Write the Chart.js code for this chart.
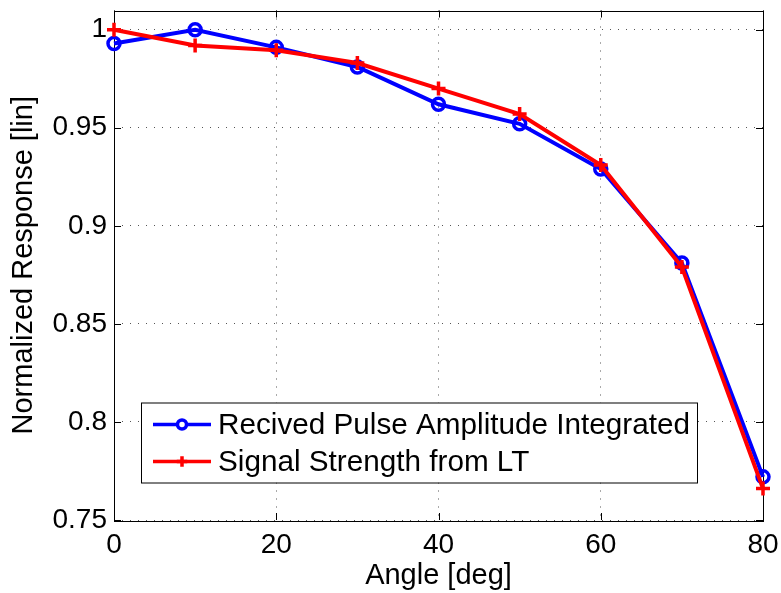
<!DOCTYPE html>
<html>
<head>
<meta charset="utf-8">
<script src="https://cdn.jsdelivr.net/npm/chart.js@4/dist/chart.umd.min.js"></script>
<style>
  html, body { margin: 0; padding: 0; background: #fff; }
  #wrap { width: 781px; height: 593px; position: relative; }
</style>
</head>
<body>
<div id="wrap"><canvas id="c" width="781" height="593"></canvas></div>
<script>
const angles = [0, 10, 20, 30, 40, 50, 60, 70, 80];
const pulseAmplitude = [0.993, 1.0, 0.991, 0.981, 0.962, 0.952, 0.929, 0.881, 0.772];
const signalStrength = [1.0, 0.992, 0.9895, 0.983, 0.970, 0.957, 0.931, 0.879, 0.766];
const yTicks = [0.75, 0.8, 0.85, 0.9, 0.95, 1];
const xTicks = [0, 20, 40, 60, 80];
const seriesNames = ['Recived Pulse Amplitude Integrated', 'Signal Strength from LT'];
const xTitle = 'Angle [deg]';
const yTitle = 'Normalized Response [lin]';

const FONT = '"Liberation Sans", Arial, Helvetica, sans-serif';

const framePlugin = {
  id: 'frame',
  beforeDatasetsDraw(chart) {
    const { ctx, chartArea: a, scales } = chart;
    ctx.save();
    ctx.strokeStyle = '#000';
    ctx.lineWidth = 1;
    const tl = 7;
    ctx.beginPath();
    yTicks.forEach(v => {
      const y = Math.round(scales.y.getPixelForValue(v)) + 0.5;
      ctx.moveTo(a.left, y); ctx.lineTo(a.left + tl, y);
      ctx.moveTo(a.right, y); ctx.lineTo(a.right - tl, y);
    });
    xTicks.forEach(v => {
      const x = Math.round(scales.x.getPixelForValue(v)) + 0.5;
      ctx.moveTo(x, a.bottom); ctx.lineTo(x, a.bottom - tl);
      ctx.moveTo(x, a.top); ctx.lineTo(x, a.top + tl);
    });
    ctx.stroke();
    ctx.strokeRect(Math.round(a.left) + 0.5, Math.round(a.top) + 0.5,
                   Math.round(a.right - a.left), Math.round(a.bottom - a.top));
    ctx.restore();
  },
  afterDatasetsDraw(chart) {
    const { ctx, chartArea: a } = chart;
    const ds = chart.data.datasets;
    const bx = a.left + 27, by = a.top + 392, bw = 556, bh = 80;
    ctx.save();
    ctx.fillStyle = '#fff';
    ctx.fillRect(bx, by, bw, bh);
    ctx.strokeStyle = '#000';
    ctx.lineWidth = 1;
    ctx.strokeRect(bx + 0.5, by + 0.5, bw, bh);
    const rows = [by + 22, by + 59];
    const legendOrder = [1, 0];
    legendOrder.forEach((di, i) => {
      const d = ds[di];
      const y = rows[i];
      ctx.strokeStyle = d.borderColor;
      ctx.lineWidth = 3.5;
      ctx.beginPath();
      ctx.moveTo(bx + 12, y); ctx.lineTo(bx + 70, y);
      ctx.stroke();
      Chart.helpers.drawPoint(ctx, {
        pointStyle: d.pointStyle, radius: d.pointRadius * 0.75,
        borderWidth: 3, rotation: 0
      }, bx + 41, y);
      ctx.fillStyle = '#000';
      ctx.font = '29.7px ' + FONT;
      ctx.textBaseline = 'middle';
      ctx.textAlign = 'left';
      ctx.fillText(d.label, bx + 77, y + 1);
    });
    ctx.restore();
  }
};

function pts(vals) { return angles.map((x, i) => ({ x, y: vals[i] })); }

new Chart(document.getElementById('c'), {
  type: 'line',
  data: {
    datasets: [
      {
        label: seriesNames[1], data: pts(signalStrength),
        borderColor: '#ff0000', backgroundColor: '#ff0000',
        borderWidth: 4, pointStyle: 'cross', pointRadius: 7,
        pointBorderWidth: 3.5, pointBorderColor: '#ff0000',
        tension: 0, clip: false, order: 0
      },
      {
        label: seriesNames[0], data: pts(pulseAmplitude),
        borderColor: '#0000ff', backgroundColor: 'rgba(0,0,0,0)',
        borderWidth: 4, pointStyle: 'circle', pointRadius: 6,
        pointBorderWidth: 3.5, pointBorderColor: '#0000ff', pointBackgroundColor: 'rgba(0,0,0,0)',
        tension: 0, clip: false, order: 1
      }
    ]
  },
  options: {
    responsive: false,
    animation: false,
    devicePixelRatio: 1,
    layout: { padding: { left: 0, right: 18, top: 10, bottom: 0 } },
    plugins: { legend: { display: false }, tooltip: { enabled: false } },
    scales: {
      x: {
        type: 'linear', min: 0, max: 80,
        afterBuildTicks(s) { s.ticks = xTicks.map(v => ({ value: v })); },
        afterFit(s) { s.height = 73; s.paddingLeft = 0; s.paddingRight = 0; },
        border: { display: false, dash: [1, 7] },
        grid: { color: '#555', lineWidth: 1, drawTicks: false },
        ticks: { color: '#000', font: { family: FONT, size: 28 }, padding: 8, maxRotation: 0 },
        title: { display: true, text: xTitle, color: '#000', font: { family: FONT, size: 29 }, padding: { top: 0, bottom: 0 } }
      },
      y: {
        type: 'linear', min: 0.75, max: 1.0098,
        afterBuildTicks(s) { s.ticks = yTicks.map(v => ({ value: v })); },
        afterFit(s) { s.width = 114; s.paddingTop = 0; s.paddingBottom = 0; },
        border: { display: false, dash: [1, 7] },
        grid: { color: '#555', lineWidth: 1, drawTicks: false },
        ticks: { color: '#000', font: { family: FONT, size: 28 }, padding: 7,
                 callback: v => String(+(+v).toFixed(2)) },
        title: { display: true, text: yTitle, color: '#000', font: { family: FONT, size: 29 }, padding: { top: 7, bottom: 0 } }
      }
    }
  },
  plugins: [framePlugin]
});
</script>
</body>
</html>
